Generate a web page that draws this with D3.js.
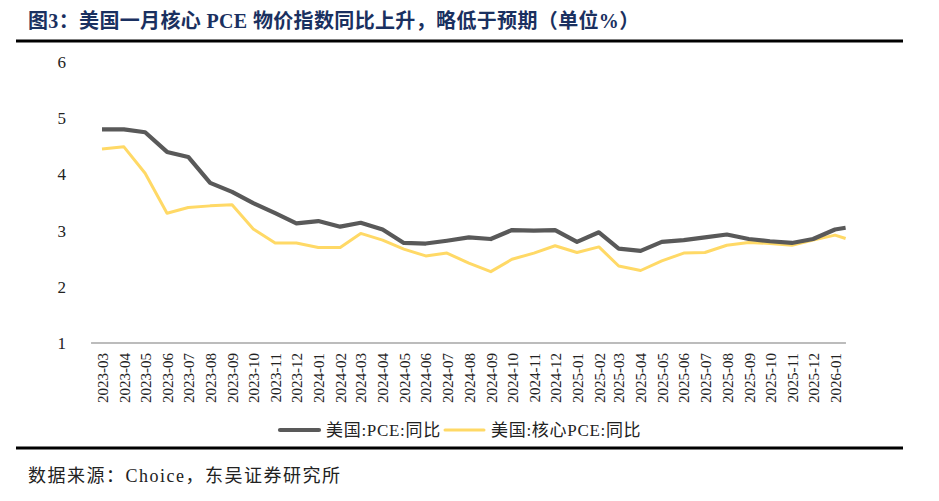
<!DOCTYPE html>
<html><head><meta charset="utf-8">
<script src="https://cdn.jsdelivr.net/npm/d3@7"></script>
<style>
html,body{margin:0;padding:0;background:#fff;}
svg{display:block;}
</style></head>
<body>
<svg id="c" width="939" height="501"></svg>
<script>
// ---- data ----
const categories = ["2023-03","2023-04","2023-05","2023-06","2023-07","2023-08","2023-09","2023-10","2023-11","2023-12",
"2024-01","2024-02","2024-03","2024-04","2024-05","2024-06","2024-07","2024-08","2024-09","2024-10","2024-11","2024-12",
"2025-01","2025-02","2025-03","2025-04","2025-05","2025-06","2025-07","2025-08","2025-09","2025-10","2025-11","2025-12","2026-01"];
// observation dates (last observation falls mid-month after the last label)
const obsDates = categories.map(c => c + "-01").concat(["2026-01-16"]);
const pce = [4.80,4.80,4.75,4.40,4.31,3.85,3.69,3.49,3.31,3.13,
3.17,3.07,3.14,3.02,2.78,2.77,2.82,2.88,2.85,3.01,3.00,3.01,
2.80,2.97,2.68,2.64,2.80,2.83,2.88,2.93,2.85,2.81,2.78,2.85,3.02,3.05];
const corePce = [4.45,4.49,4.02,3.31,3.41,3.44,3.46,3.03,2.78,2.78,
2.70,2.70,2.95,2.83,2.67,2.55,2.60,2.42,2.27,2.49,2.60,2.73,
2.61,2.71,2.37,2.29,2.46,2.60,2.61,2.74,2.79,2.77,2.74,2.83,2.92,2.86];
const yTicks = [1,2,3,4,5,6];
const seriesNames = ["美国:PCE:同比","美国:核心PCE:同比"];
const titleText = "图3：美国一月核心 PCE 物价指数同比上升，略低于预期（单位%）";
const sourceText = "数据来源：Choice，东吴证券研究所";

// ---- drawing ----
const svg = d3.select("#c");
const serif = "'Liberation Serif','Times New Roman','Noto Sans CJK SC',serif";
const parse = d3.timeParse("%Y-%m-%d");
const catDates = categories.map(c => parse(c + "-01"));
const dates = obsDates.map(parse);

const x = d3.scaleTime().domain([catDates[0], catDates[catDates.length-1]]).range([102, 835]);
const y = d3.scaleLinear().domain([1, 6]).range([343, 62]);
const half = (x(catDates[1]) - x(catDates[0])) / 2;

// title
svg.append("text").attr("x", 28).attr("y", 28)
  .attr("font-family", serif).attr("font-weight", "bold").attr("font-size", 20)
  .attr("letter-spacing", 0.35)
  .attr("fill", "#1a3060").text(titleText);
svg.append("line").attr("x1", 16).attr("x2", 903).attr("y1", 41).attr("y2", 41)
  .attr("stroke", "#000").attr("stroke-width", 3);

// y labels
svg.append("g").selectAll("text").data(yTicks).join("text")
  .attr("x", 66).attr("y", d => y(d)).attr("dy", "0.35em")
  .attr("text-anchor", "end").attr("font-family", serif).attr("font-size", 17)
  .attr("fill", "#222").text(d => d);

// x axis
const xAxis = d3.axisBottom(x).tickValues(catDates).tickSize(0).tickPadding(0)
  .tickFormat((d, i) => categories[i]);
const gx = svg.append("g").attr("transform", `translate(0,${y(1)})`).call(xAxis);
gx.select(".domain").remove();
gx.selectAll("text").attr("font-family", serif).attr("font-size", 15).attr("fill", "#222")
  .attr("text-anchor", "end").attr("transform", "rotate(-90)")
  .attr("x", -10).attr("y", 0).attr("dy", "0.35em");
svg.append("line").attr("x1", x(catDates[0]) - half).attr("x2", x(catDates[catDates.length-1]) + half)
  .attr("y1", y(1)).attr("y2", y(1)).attr("stroke", "#a6a6a6").attr("stroke-width", 1.5);

// lines
const line = d3.line().x((d, i) => x(dates[i])).y(d => y(d));
svg.append("path").datum(corePce).attr("d", line).attr("fill", "none")
  .attr("stroke", "#ffd966").attr("stroke-width", 3).attr("stroke-linejoin", "round");
svg.append("path").datum(pce).attr("d", line).attr("fill", "none")
  .attr("stroke", "#595959").attr("stroke-width", 4.2).attr("stroke-linejoin", "round");

// legend
const legend = [
  {name: seriesNames[0], color: "#595959", w: 4.2, x: 280},
  {name: seriesNames[1], color: "#ffd966", w: 3, x: 445}
];
const lg = svg.append("g");
legend.forEach(l => {
  lg.append("line").attr("x1", l.x).attr("x2", l.x + 39).attr("y1", 430).attr("y2", 430)
    .attr("stroke", l.color).attr("stroke-width", l.w).attr("stroke-linecap", "round");
  lg.append("text").attr("x", l.x + 46).attr("y", 430).attr("dy", "0.35em")
    .attr("font-family", serif).attr("font-size", 17).attr("letter-spacing", 0.7)
    .attr("fill", "#222").text(l.name);
});

svg.append("line").attr("x1", 16).attr("x2", 903).attr("y1", 448).attr("y2", 448)
  .attr("stroke", "#000").attr("stroke-width", 3);

// source
svg.append("text").attr("x", 28).attr("y", 482)
  .attr("font-family", serif).attr("font-size", 18).attr("letter-spacing", 1.5)
  .attr("fill", "#222").text(sourceText);
</script>
</body></html>
